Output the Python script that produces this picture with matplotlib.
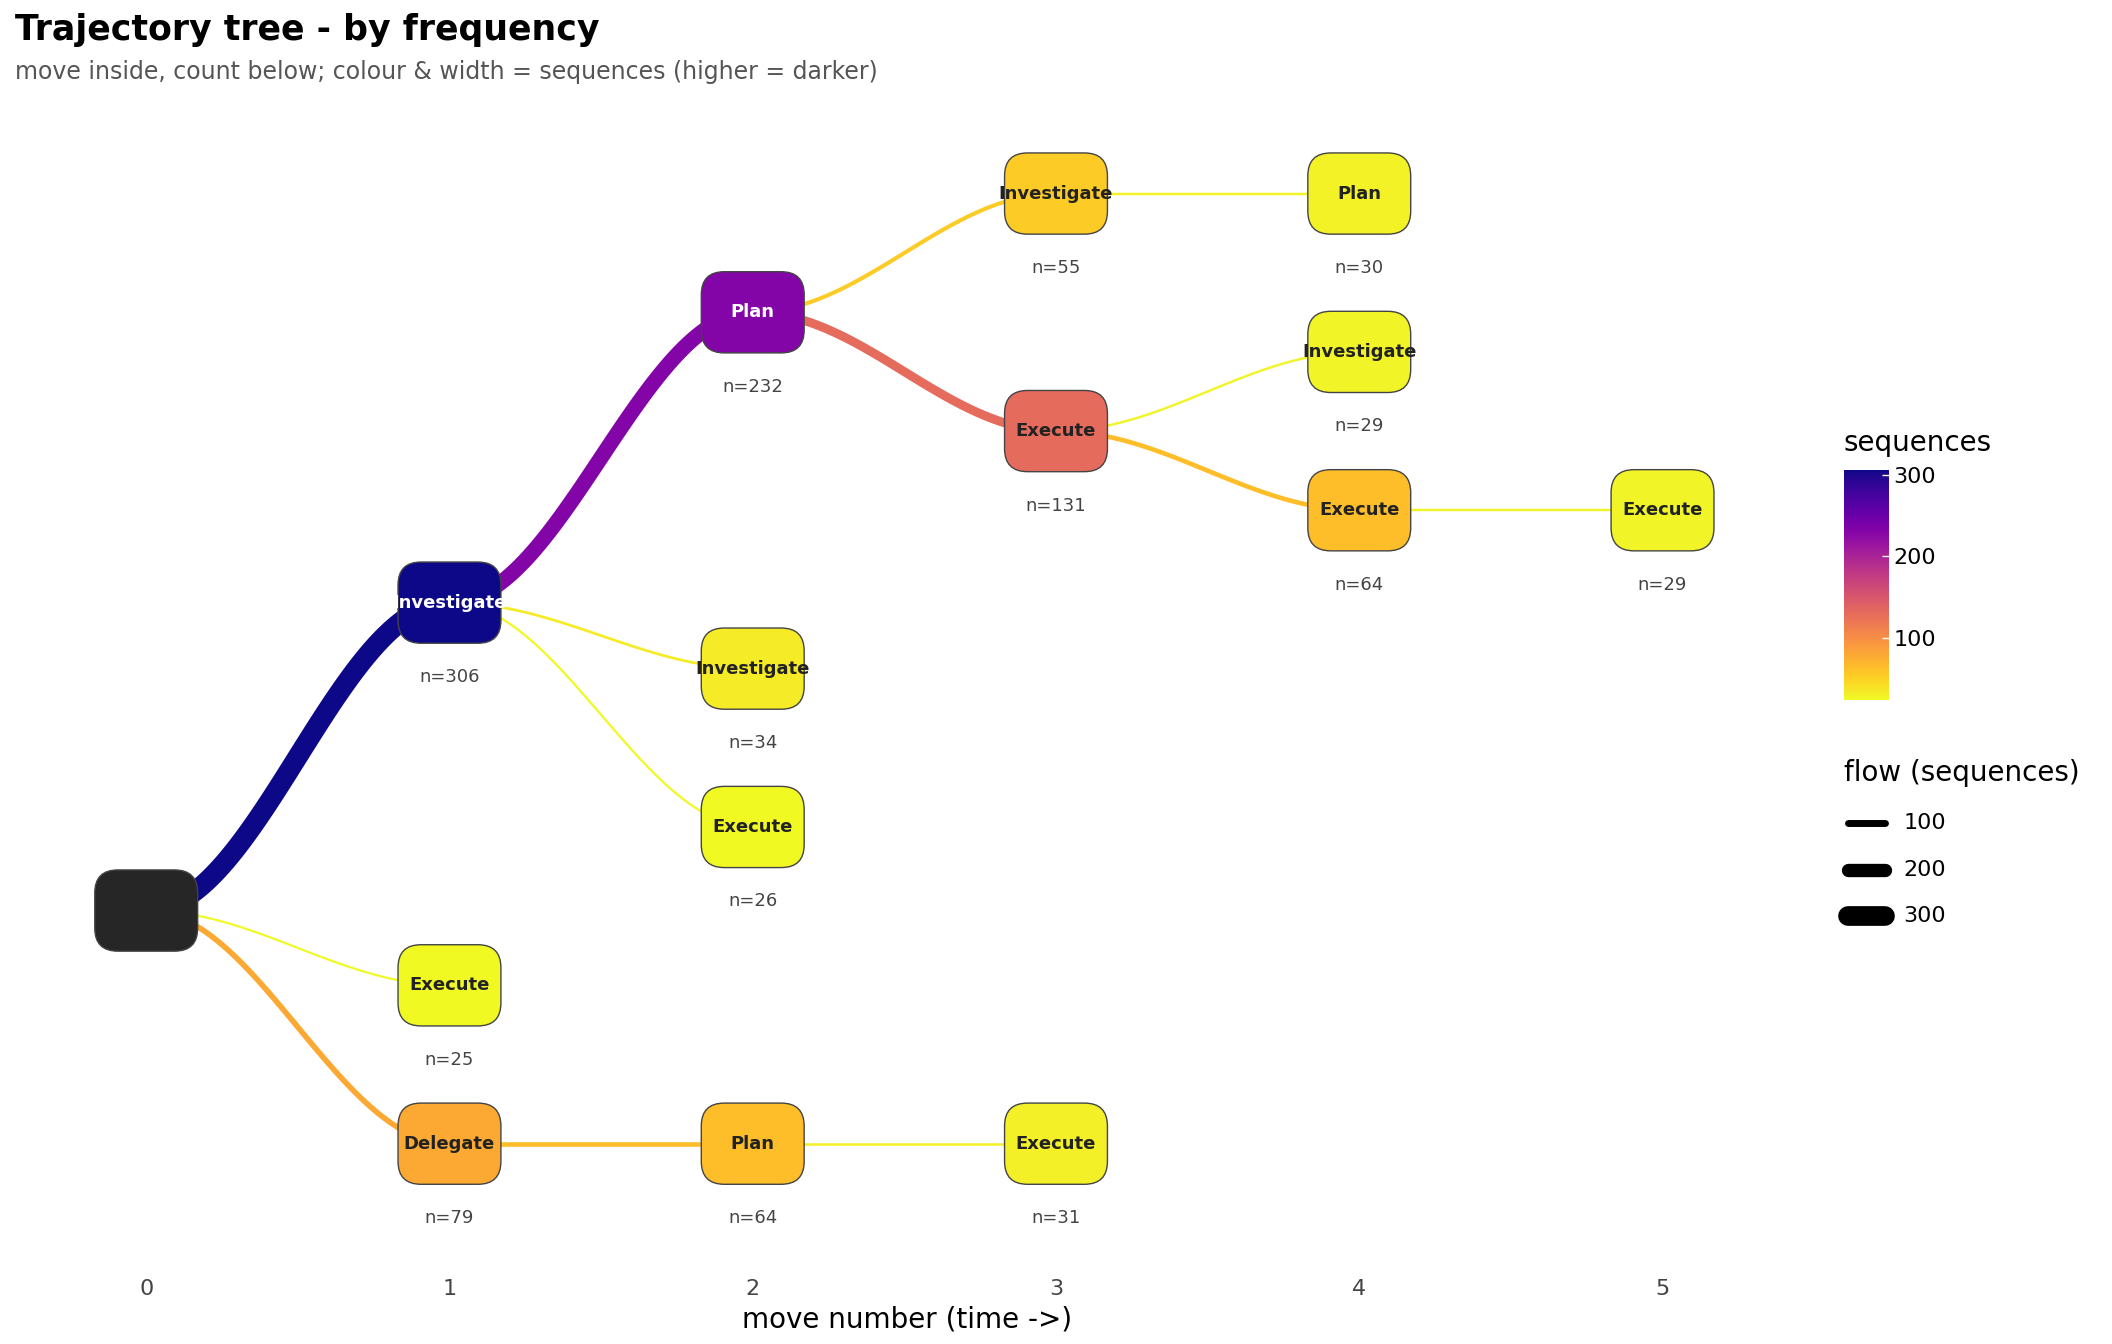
import matplotlib
matplotlib.use("Agg")
import matplotlib.pyplot as plt
import numpy as np
from matplotlib.patches import FancyBboxPatch
from matplotlib.colors import Normalize
from matplotlib.cm import ScalarMappable

# tree data
node_ids = ["root","inv1","exe1","del1","plan2","inv2","exe2","plan2b","inv3","exe3","exe3b","plan4","inv4","exe4","exe5"]
labels   = ["", "Investigate","Execute","Delegate","Plan","Investigate","Execute","Plan","Investigate","Execute","Execute","Plan","Investigate","Execute","Execute"]
parents  = [None,"root","root","root","inv1","inv1","inv1","del1","plan2","plan2","plan2b","inv3","exe3","exe3","exe4"]
counts   = [None,306,25,79,232,34,26,64,55,131,31,30,29,64,29]
# leaf order (top to bottom)
leaf_order = ["plan4","inv4","exe5","inv2","exe2","exe1","exe3b"]

cmap = plt.get_cmap("plasma_r")
norm = Normalize(vmin=25, vmax=306)

children = {n: [] for n in node_ids}
for n, p in zip(node_ids, parents):
    if p: children[p].append(n)
depth = {"root": 0}
for n, p in zip(node_ids, parents):
    if p: depth[n] = depth[p] + 1
slot = {}
def get_slot(n):
    if n in slot: return slot[n]
    if not children[n]:
        slot[n] = leaf_order.index(n)
    else:
        slot[n] = np.mean([get_slot(c) for c in children[n]])
    return slot[n]
get_slot("root")

X0, DX, Y0, DY = 108, 224.0, 143, 117.0
pos = {n: (X0 + DX*depth[n], Y0 + DY*slot[n]) for n in node_ids}
cnt = dict(zip(node_ids, counts))
lab = dict(zip(node_ids, labels))

W, H = 2112, 1344
fig = plt.figure(figsize=(W/100, H/100), dpi=100)
ax = fig.add_axes([0, 0, 1, 1])
PW, PH = 1560, 993
ax.set_xlim(0, PW); ax.set_ylim(PH, 0); ax.axis("off")

def lw_for(c): return c*0.046 + 0.4

# edges
for n, p in zip(node_ids, parents):
    if not p: continue
    (x0, y0), (x1, y1) = pos[p], pos[n]
    t = np.linspace(0, 1, 100)
    s = (1 - np.cos(np.pi*t))/2
    ax.plot(x0 + (x1-x0)*t, y0 + (y1-y0)*s, color=cmap(norm(cnt[n])),
            lw=lw_for(cnt[n]), solid_capstyle="butt", zorder=1)

# nodes
bw, bh, r = 76, 60, 17
for n in node_ids:
    x, y = pos[n]
    if n == "root":
        fc = "#262626"; tc = "white"
    else:
        fc = cmap(norm(cnt[n])); tc = "white" if cnt[n] > 180 else "#222222"
    ax.add_patch(FancyBboxPatch((x-bw/2+r, y-bh/2+r), bw-2*r, bh-2*r,
                 boxstyle=f"round,pad={r}", fc=fc, ec="#444444", lw=1, zorder=2))
    if lab[n]:
        ax.text(x, y, lab[n], ha="center", va="center", fontsize=13,
                fontweight="bold", color=tc, zorder=3)
    if cnt[n]:
        ax.text(x, y+55, f"n={cnt[n]}", ha="center", va="center",
                fontsize=13, color="#444444", zorder=3)

# x axis
for d in range(6):
    ax.text(X0 + DX*d, 952, str(d), ha="center", va="center", fontsize=16, color="#444444")
ax.text(670, 975, "move number (time ->)", ha="center", va="center", fontsize=20)

# titles
ax.text(11, 22, "Trajectory tree - by frequency", ha="left", va="center",
        fontsize=25, fontweight="bold")
ax.text(11, 53, "move inside, count below; colour & width = sequences (higher = darker)",
        ha="left", va="center", fontsize=17, color="#555555")

# colorbar
cax = fig.add_axes([1362/PW, 1-517/PH, 33/PW, 170/PH])
cb = fig.colorbar(ScalarMappable(norm=norm, cmap=cmap), cax=cax, ticks=[100, 200, 300])
cb.outline.set_visible(False)
cb.ax.tick_params(labelsize=16, length=5, color="white", width=1, direction="in")
cb.ax.yaxis.set_ticks_position("right")
ax.text(1362, 327, "sequences", ha="left", va="center", fontsize=20)

# flow legend
ax.text(1362, 571, "flow (sequences)", ha="left", va="center", fontsize=20)
for i, v in enumerate([100, 200, 300]):
    y = 608 + 34.5*i
    ax.plot([1365, 1392], [y, y], color="black", lw=lw_for(v), solid_capstyle="round")
    ax.text(1406, y, str(v), ha="left", va="center", fontsize=16)

fig.savefig("out.png", dpi=100, facecolor="white")
